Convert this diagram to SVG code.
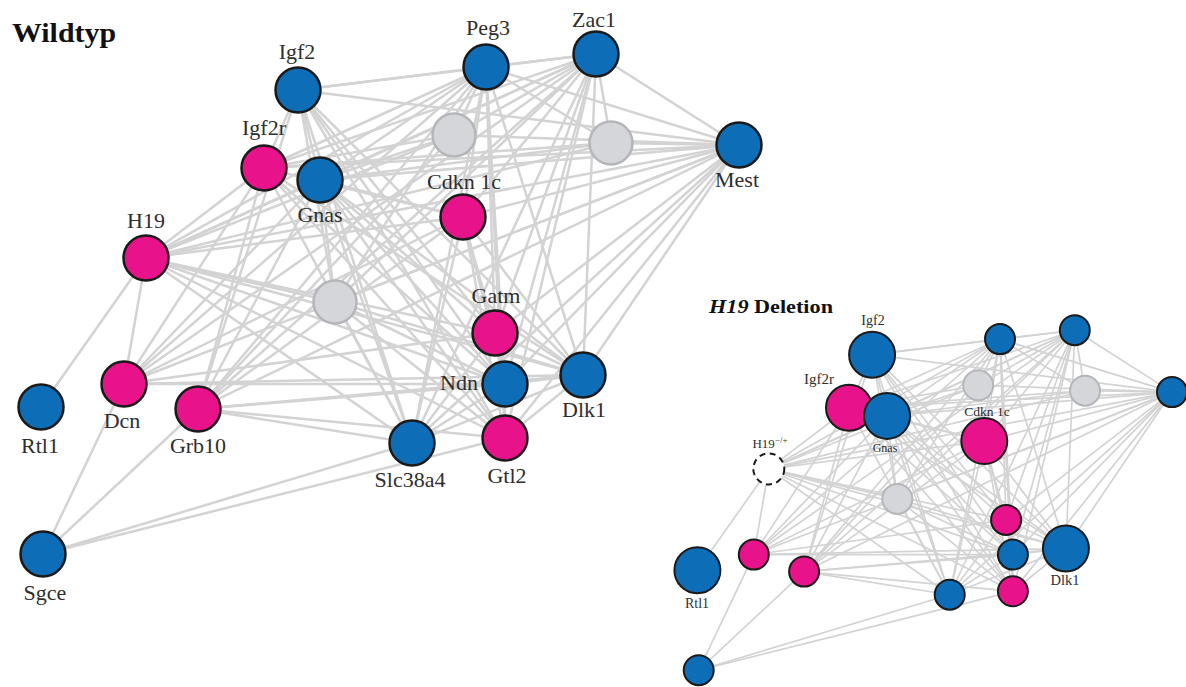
<svg xmlns="http://www.w3.org/2000/svg" xmlns:xlink="http://www.w3.org/1999/xlink" width="1186" height="687" viewBox="0 0 1186 687" font-family="'Liberation Serif', 'Times New Roman', serif">
<style>
.e line{stroke:#d3d3d3;stroke-width:2.5;fill:none;stroke-linecap:round}
.b{fill:#0e6db7;stroke:#1a1a1a;stroke-width:2.5}
.p{fill:#e8138b;stroke:#1a1a1a;stroke-width:2.5}
.g{fill:#d4d6d9;stroke:#b4b6b9;stroke-width:2.5}
.r .b,.r .p{stroke-width:2}
.r .g{stroke-width:2}
.d{fill:#ffffff;stroke:#1a1a1a;stroke-width:2;stroke-dasharray:6 4.5}
.t{font-family:'Liberation Serif','Times New Roman',serif;font-size:22px;fill:#2e2e2e;text-anchor:middle}
.ts{font-size:14px}
.title{font-family:'Liberation Serif','Times New Roman',serif;font-weight:bold;fill:#111111}
</style>
<rect width="1186" height="687" fill="#ffffff"/>
<text class="title" x="12" y="42" font-size="28" textLength="104" lengthAdjust="spacingAndGlyphs">Wildtyp</text>
<text class="title" x="709" y="313" font-size="19" textLength="124" lengthAdjust="spacingAndGlyphs"><tspan font-style="italic">H19</tspan> Deletion</text>
<g id="connectors">
<g id="edges-wildtyp" class="e">
<line x1="298" y1="90" x2="486" y2="67"/>
<line x1="298" y1="90" x2="596" y2="54"/>
<line x1="298" y1="90" x2="264" y2="168"/>
<line x1="298" y1="90" x2="320" y2="180"/>
<line x1="298" y1="90" x2="739" y2="145"/>
<line x1="298" y1="90" x2="335" y2="302"/>
<line x1="298" y1="90" x2="505" y2="384"/>
<line x1="298" y1="90" x2="505" y2="438"/>
<line x1="298" y1="90" x2="583" y2="375"/>
<line x1="298" y1="90" x2="412" y2="443"/>
<line x1="298" y1="90" x2="198" y2="409"/>
<line x1="298" y1="90" x2="495" y2="333"/>
<line x1="486" y1="67" x2="596" y2="54"/>
<line x1="486" y1="67" x2="264" y2="168"/>
<line x1="486" y1="67" x2="320" y2="180"/>
<line x1="486" y1="67" x2="146" y2="258"/>
<line x1="486" y1="67" x2="454" y2="135"/>
<line x1="486" y1="67" x2="463" y2="217"/>
<line x1="486" y1="67" x2="495" y2="333"/>
<line x1="486" y1="67" x2="505" y2="384"/>
<line x1="486" y1="67" x2="505" y2="438"/>
<line x1="486" y1="67" x2="583" y2="375"/>
<line x1="486" y1="67" x2="412" y2="443"/>
<line x1="486" y1="67" x2="739" y2="145"/>
<line x1="486" y1="67" x2="611" y2="143"/>
<line x1="486" y1="67" x2="124" y2="384"/>
<line x1="486" y1="67" x2="198" y2="409"/>
<line x1="486" y1="67" x2="335" y2="302"/>
<line x1="596" y1="54" x2="611" y2="143"/>
<line x1="596" y1="54" x2="739" y2="145"/>
<line x1="596" y1="54" x2="454" y2="135"/>
<line x1="596" y1="54" x2="264" y2="168"/>
<line x1="596" y1="54" x2="320" y2="180"/>
<line x1="596" y1="54" x2="146" y2="258"/>
<line x1="596" y1="54" x2="463" y2="217"/>
<line x1="596" y1="54" x2="495" y2="333"/>
<line x1="596" y1="54" x2="505" y2="384"/>
<line x1="596" y1="54" x2="583" y2="375"/>
<line x1="596" y1="54" x2="505" y2="438"/>
<line x1="596" y1="54" x2="412" y2="443"/>
<line x1="596" y1="54" x2="198" y2="409"/>
<line x1="596" y1="54" x2="124" y2="384"/>
<line x1="596" y1="54" x2="335" y2="302"/>
<line x1="739" y1="145" x2="611" y2="143"/>
<line x1="739" y1="145" x2="454" y2="135"/>
<line x1="739" y1="145" x2="320" y2="180"/>
<line x1="739" y1="145" x2="264" y2="168"/>
<line x1="739" y1="145" x2="463" y2="217"/>
<line x1="739" y1="145" x2="146" y2="258"/>
<line x1="739" y1="145" x2="495" y2="333"/>
<line x1="739" y1="145" x2="505" y2="384"/>
<line x1="739" y1="145" x2="583" y2="375"/>
<line x1="739" y1="145" x2="505" y2="438"/>
<line x1="739" y1="145" x2="412" y2="443"/>
<line x1="739" y1="145" x2="198" y2="409"/>
<line x1="739" y1="145" x2="124" y2="384"/>
<line x1="739" y1="145" x2="335" y2="302"/>
<line x1="454" y1="135" x2="320" y2="180"/>
<line x1="454" y1="135" x2="264" y2="168"/>
<line x1="454" y1="135" x2="146" y2="258"/>
<line x1="454" y1="135" x2="198" y2="409"/>
<line x1="611" y1="143" x2="320" y2="180"/>
<line x1="611" y1="143" x2="264" y2="168"/>
<line x1="611" y1="143" x2="146" y2="258"/>
<line x1="320" y1="180" x2="463" y2="217"/>
<line x1="320" y1="180" x2="335" y2="302"/>
<line x1="320" y1="180" x2="505" y2="384"/>
<line x1="320" y1="180" x2="505" y2="438"/>
<line x1="320" y1="180" x2="583" y2="375"/>
<line x1="320" y1="180" x2="412" y2="443"/>
<line x1="320" y1="180" x2="495" y2="333"/>
<line x1="320" y1="180" x2="146" y2="258"/>
<line x1="320" y1="180" x2="124" y2="384"/>
<line x1="320" y1="180" x2="198" y2="409"/>
<line x1="264" y1="168" x2="463" y2="217"/>
<line x1="264" y1="168" x2="124" y2="384"/>
<line x1="264" y1="168" x2="198" y2="409"/>
<line x1="264" y1="168" x2="505" y2="384"/>
<line x1="264" y1="168" x2="505" y2="438"/>
<line x1="264" y1="168" x2="583" y2="375"/>
<line x1="264" y1="168" x2="412" y2="443"/>
<line x1="264" y1="168" x2="146" y2="258"/>
<line x1="146" y1="258" x2="463" y2="217"/>
<line x1="146" y1="258" x2="335" y2="302"/>
<line x1="146" y1="258" x2="495" y2="333"/>
<line x1="146" y1="258" x2="505" y2="384"/>
<line x1="146" y1="258" x2="583" y2="375"/>
<line x1="146" y1="258" x2="505" y2="438"/>
<line x1="146" y1="258" x2="412" y2="443"/>
<line x1="146" y1="258" x2="124" y2="384"/>
<line x1="146" y1="258" x2="41" y2="407"/>
<line x1="124" y1="384" x2="43" y2="554"/>
<line x1="124" y1="384" x2="505" y2="384"/>
<line x1="124" y1="384" x2="583" y2="375"/>
<line x1="124" y1="384" x2="495" y2="333"/>
<line x1="124" y1="384" x2="463" y2="217"/>
<line x1="198" y1="409" x2="43" y2="554"/>
<line x1="198" y1="409" x2="505" y2="384"/>
<line x1="198" y1="409" x2="583" y2="375"/>
<line x1="198" y1="409" x2="505" y2="438"/>
<line x1="198" y1="409" x2="412" y2="443"/>
<line x1="198" y1="409" x2="463" y2="217"/>
<line x1="43" y1="554" x2="412" y2="443"/>
<line x1="43" y1="554" x2="505" y2="438"/>
<line x1="463" y1="217" x2="495" y2="333"/>
<line x1="463" y1="217" x2="505" y2="384"/>
<line x1="463" y1="217" x2="583" y2="375"/>
<line x1="463" y1="217" x2="505" y2="438"/>
<line x1="463" y1="217" x2="412" y2="443"/>
<line x1="335" y1="302" x2="412" y2="443"/>
<line x1="335" y1="302" x2="505" y2="438"/>
<line x1="335" y1="302" x2="505" y2="384"/>
<line x1="335" y1="302" x2="583" y2="375"/>
<line x1="495" y1="333" x2="505" y2="384"/>
<line x1="495" y1="333" x2="583" y2="375"/>
<line x1="495" y1="333" x2="412" y2="443"/>
<line x1="505" y1="384" x2="583" y2="375"/>
<line x1="505" y1="384" x2="412" y2="443"/>
<line x1="505" y1="384" x2="505" y2="438"/>
<line x1="505" y1="438" x2="583" y2="375"/>
<line x1="412" y1="443" x2="583" y2="375"/>
</g>
<use id="edges-deletion" href="#edges-wildtyp" xlink:href="#edges-wildtyp" transform="translate(669.5 293.5) scale(0.68)"/>
</g>
<g id="wildtyp-nodes" font-family="'Liberation Serif', 'Times New Roman', serif">
<g id="wt-igf2"><circle class="b" cx="298" cy="90" r="22.5"/><text class="t" x="297" y="59">Igf2</text></g>
<g id="wt-peg3"><circle class="b" cx="486" cy="67" r="22.5"/><text class="t" x="488" y="35">Peg3</text></g>
<g id="wt-zac1"><circle class="b" cx="596" cy="54" r="22.5"/><text class="t" x="594" y="27">Zac1</text></g>
<g id="wt-gray1"><circle class="g" cx="454" cy="135" r="21.5"/></g>
<g id="wt-gray2"><circle class="g" cx="611" cy="143" r="21.5"/></g>
<g id="wt-mest"><circle class="b" cx="739" cy="145" r="22.5"/><text class="t" x="737" y="187">Mest</text></g>
<g id="wt-igf2r"><circle class="p" cx="264" cy="168" r="22.5"/><text class="t" x="264" y="135">Igf2r</text></g>
<g id="wt-gnas"><circle class="b" cx="320" cy="180" r="22.5"/><text class="t" x="320" y="222">Gnas</text></g>
<g id="wt-cdkn1c"><circle class="p" cx="463" cy="217" r="22.5"/><text class="t" x="464" y="189">Cdkn 1c</text></g>
<g id="wt-h19"><circle class="p" cx="146" cy="258" r="22.5"/><text class="t" x="146" y="228">H19</text></g>
<g id="wt-gray3"><circle class="g" cx="335" cy="302" r="21.5"/></g>
<g id="wt-gatm"><circle class="p" cx="495" cy="333" r="22.5"/><text class="t" x="496" y="303">Gatm</text></g>
<g id="wt-dlk1"><circle class="b" cx="583" cy="375" r="22.5"/><text class="t" x="584" y="417">Dlk1</text></g>
<g id="wt-ndn"><circle class="b" cx="505" cy="384" r="22.5"/><text class="t" x="478" y="390" style="text-anchor:end">Ndn</text></g>
<g id="wt-gtl2"><circle class="p" cx="505" cy="438" r="22.5"/><text class="t" x="507" y="483">Gtl2</text></g>
<g id="wt-slc38a4"><circle class="b" cx="412" cy="443" r="22.5"/><text class="t" x="410" y="487">Slc38a4</text></g>
<g id="wt-dcn"><circle class="p" cx="124" cy="384" r="22.5"/><text class="t" x="122" y="428">Dcn</text></g>
<g id="wt-grb10"><circle class="p" cx="198" cy="409" r="22.5"/><text class="t" x="198" y="453">Grb10</text></g>
<g id="wt-rtl1"><circle class="b" cx="41" cy="407" r="22.5"/><text class="t" x="40" y="453">Rtl1</text></g>
<g id="wt-sgce"><circle class="b" cx="43" cy="554" r="22.5"/><text class="t" x="45" y="600">Sgce</text></g>
</g>
<g id="deletion-nodes" class="r" font-family="'Liberation Serif', 'Times New Roman', serif">
<g id="del-igf2"><circle class="b" cx="872.1" cy="354.7" r="23"/><text class="t ts" x="873" y="325">Igf2</text></g>
<g id="del-peg3"><circle class="b" cx="1000" cy="339.1" r="15"/></g>
<g id="del-zac1"><circle class="b" cx="1074.8" cy="330.2" r="15"/></g>
<g id="del-gray1"><circle class="g" cx="978.2" cy="385.3" r="15"/></g>
<g id="del-gray2"><circle class="g" cx="1085" cy="390.7" r="15"/></g>
<g id="del-mest"><circle class="b" cx="1172" cy="392.1" r="15"/></g>
<g id="del-igf2r"><circle class="p" cx="849" cy="407.7" r="23"/><text class="t ts" x="819" y="384" style="font-size:15px">Igf2r</text></g>
<g id="del-gnas"><circle class="b" cx="887.1" cy="415.9" r="23"/><text class="t ts" x="885" y="452" style="font-size:12px">Gnas</text></g>
<g id="del-cdkn1c"><circle class="p" cx="984.3" cy="441.1" r="23"/><text class="t ts" x="987" y="416" style="font-size:13.5px">Cdkn 1c</text></g>
<g id="del-h19"><circle class="d" cx="768.8" cy="468.9" r="15.5"/><text class="t ts" x="770" y="448" style="font-size:13px">H19<tspan font-size="9" dy="-5">−/+</tspan></text></g>
<g id="del-gray3"><circle class="g" cx="897.3" cy="498.9" r="15"/></g>
<g id="del-gatm"><circle class="p" cx="1006.1" cy="519.9" r="15"/></g>
<g id="del-dlk1"><circle class="b" cx="1065.9" cy="548.5" r="23"/><text class="t ts" x="1065" y="585" style="font-size:14.5px">Dlk1</text></g>
<g id="del-ndn"><circle class="b" cx="1012.9" cy="554.6" r="15"/></g>
<g id="del-gtl2"><circle class="p" cx="1012.9" cy="591.3" r="15"/></g>
<g id="del-slc38a4"><circle class="b" cx="949.7" cy="594.7" r="15"/></g>
<g id="del-dcn"><circle class="p" cx="753.8" cy="554.6" r="15"/></g>
<g id="del-grb10"><circle class="p" cx="804.1" cy="571.6" r="15"/></g>
<g id="del-rtl1"><circle class="b" cx="697.4" cy="570.3" r="23"/><text class="t ts" x="697" y="608">Rtl1</text></g>
<g id="del-sgce"><circle class="b" cx="698.7" cy="670.2" r="15"/></g>
</g>
</svg>
